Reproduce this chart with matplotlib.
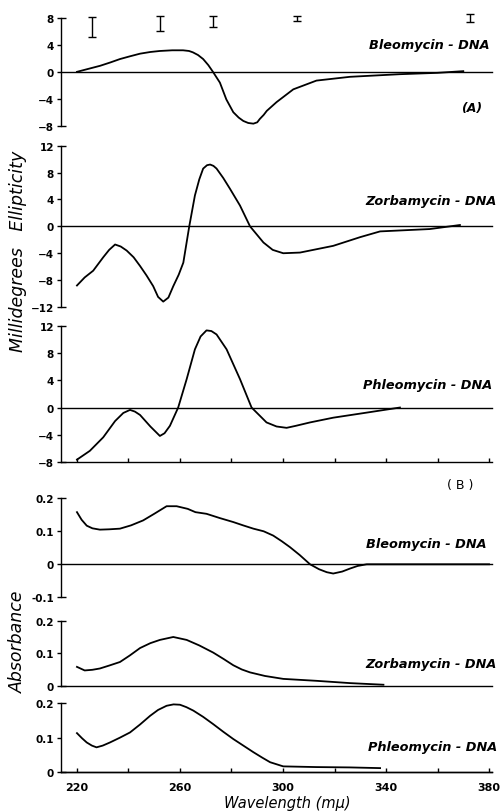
import matplotlib.pyplot as plt
import numpy as np

plt.rcParams['font.family'] = ['DejaVu Sans']

# (A) circular dichroism, millidegrees ellipticity
bleo_cd_wl = [220, 224, 229, 233, 236.7, 240.5, 244.5, 248.5, 252.2, 257, 261.2, 263.5, 265, 267, 269, 271,
              272.8, 275.5, 278, 280.7, 282.8, 284.6, 286.5, 288.5, 290, 291, 292.5, 293.7, 297.5, 304,
              313, 326, 345.4, 360, 370]
bleo_cd = [0, 0.4, 0.9, 1.4, 1.9, 2.3, 2.7, 2.95, 3.1, 3.2, 3.2, 3.1, 2.9, 2.5, 1.9, 1.0,
           0, -1.6, -4.1, -6.0, -6.8, -7.3, -7.6, -7.7, -7.5, -7.0, -6.4, -5.8, -4.5, -2.6,
           -1.3, -0.74, -0.35, -0.15, 0.1]

zorb_cd_wl = [220, 223, 226.3, 230.2, 232.5, 234.8, 237, 239.3, 242, 244.5, 247, 249.6, 251.5, 253.5,
              255.5, 257.4, 259.5, 261.3, 263.6, 265.8, 267.5, 269, 270.5, 271.7, 273, 274.2, 276.8,
              279.4, 283.3, 287.2, 292.4, 296, 300.1, 306.6, 319.5, 330, 337.7, 357, 368.7]
zorb_cd = [-8.8, -7.6, -6.6, -4.6, -3.5, -2.7, -3.0, -3.6, -4.6, -5.9, -7.3, -8.9, -10.5, -11.2,
           -10.6, -8.9, -7.2, -5.4, 0, 4.6, 7.0, 8.6, 9.1, 9.2, 9.0, 8.6, 7.2,
           5.6, 3.1, 0, -2.4, -3.5, -4.0, -3.9, -2.9, -1.6, -0.75, -0.4, 0.2]

phleo_cd_wl = [220, 225, 230.2, 234.8, 238, 240.6, 242.5, 244.5, 248.5, 252.2, 254, 256.1, 259.3,
               262.6, 265.8, 268, 270.3, 272.2, 274.2, 278.1, 283.3, 287.8, 293.6, 297.5, 301.4,
               305, 310.5, 319.5, 332.5, 345.4]
phleo_cd = [-7.7, -6.4, -4.4, -2.0, -0.8, -0.35, -0.6, -1.1, -2.8, -4.2, -3.8, -2.7, 0,
            4.2, 8.6, 10.5, 11.4, 11.3, 10.8, 8.6, 4.2, 0, -2.2, -2.8, -3.0,
            -2.7, -2.2, -1.5, -0.75, 0]

# noise bars at top of the bleomycin CD panel
bar_wl = [225.8, 252.2, 272.8, 305.4, 372.6]
bar_mid = [6.65, 7.2, 7.5, 7.9, 8.0]
bar_half = [1.45, 1.1, 0.8, 0.4, 0.6]

# (B) absorbance difference
bleo_ab_wl = [220, 221.8, 223.8, 226, 228.9, 232.5, 236.7, 241, 245.7, 250, 254.8, 258.7, 263,
              266, 270.3, 275.5, 280.7, 284.5, 288.5, 292.5, 296.2, 299.5, 302.7, 306.5, 310.5,
              314, 317, 319.5, 323, 326, 329, 332.5, 380]
bleo_ab = [0.158, 0.135, 0.117, 0.109, 0.105, 0.106, 0.108, 0.118, 0.133, 0.153, 0.176, 0.176, 0.168,
           0.158, 0.153, 0.14, 0.128, 0.118, 0.108, 0.1, 0.087, 0.07, 0.052, 0.028, 0.0,
           -0.015, -0.024, -0.028, -0.022, -0.013, -0.005, 0, 0]

zorb_ab_wl = [220, 223, 226, 228.9, 232.5, 236.7, 240.5, 244.5, 248.5, 252.2, 257.4, 262.6, 267.5,
              272.9, 277, 280.7, 284, 287.2, 293, 300.1, 313.1, 326, 339]
zorb_ab = [0.058, 0.047, 0.049, 0.053, 0.062, 0.073, 0.093, 0.116, 0.131, 0.141, 0.15, 0.141, 0.124,
           0.102, 0.082, 0.063, 0.05, 0.041, 0.03, 0.021, 0.015, 0.008, 0.003]

phleo_ab_wl = [220, 222, 223.8, 225.8, 227.6, 230, 232.8, 236.7, 240.6, 244.5, 248.4, 251.5, 254.8,
               257.5, 260, 262.5, 265.2, 269, 272.9, 276.8, 280.7, 284.6, 288.5, 292, 295, 300.1,
               313, 326, 337.7]
phleo_ab = [0.113, 0.098, 0.086, 0.077, 0.072, 0.077, 0.086, 0.1, 0.115, 0.138, 0.163, 0.18, 0.192,
            0.196, 0.195, 0.188, 0.178, 0.16, 0.139, 0.117, 0.096, 0.077, 0.058, 0.042, 0.029, 0.017,
            0.015, 0.014, 0.012]

fig = plt.figure(figsize=(5.02, 8.12), dpi=100)
left, width = 0.1215, 0.8578
xlim = (213.8, 381)

# (bottom, height, ylim, yticks, yticklabels, show bottom axis)
panels = [
    (0.844, 0.1326, (-8, 8), [-8, -4, 0, 4, 8], None, False),
    (0.6207, 0.1986, (-12, 12), [-12, -8, -4, 0, 4, 8, 12], None, False),
    (0.4302, 0.1667, (-8, 12), [-8, -4, 0, 4, 8, 12], None, True),
    (0.2632, 0.1219, (-0.1, 0.2), [-0.1, 0, 0.1, 0.2], ['-0.1', '0', '0.1', '0.2'], False),
    (0.1543, 0.0800, (0, 0.2), [0, 0.1, 0.2], ['0', '0.1', '0.2'], False),
    (0.0477, 0.0853, (0, 0.2), [0, 0.1, 0.2], ['0', '0.1', '0.2'], True),
]
curves = [(bleo_cd_wl, bleo_cd), (zorb_cd_wl, zorb_cd), (phleo_cd_wl, phleo_cd),
          (bleo_ab_wl, bleo_ab), (zorb_ab_wl, zorb_ab), (phleo_ab_wl, phleo_ab)]
names = ['Bleomycin - DNA', 'Zorbamycin - DNA', 'Phleomycin - DNA',
         'Bleomycin - DNA', 'Zorbamycin - DNA', 'Phleomycin - DNA']
name_pos = [(380.4, 4.1), (383, 3.8), (381.4, 3.4), (379, 0.062), (383, 0.068), (383, 0.075)]

axes = []
for i, (bot, h, yl, yt, ytl, show_x) in enumerate(panels):
    ax = fig.add_axes([left, bot, width, h])
    axes.append(ax)
    wl, val = curves[i]
    ax.plot(wl, val, color='black', lw=1.3, clip_on=False)
    ax.axhline(0, color='black', lw=1.0, clip_on=False)
    ax.set_xlim(xlim)
    ax.set_ylim(yl)
    ax.set_yticks(yt)
    if ytl is not None:
        ax.set_yticklabels(ytl)
    for s in ['top', 'right']:
        ax.spines[s].set_visible(False)
    ax.spines['left'].set_linewidth(1.0)
    ax.tick_params(axis='y', direction='out', length=3, width=1.0, pad=2, labelsize=7.5)
    for lab in ax.get_yticklabels():
        lab.set_fontweight('bold')
    # end caps on the y axis
    cap = (xlim[1] - xlim[0]) * 0.012
    ax.hlines([yl[0], yl[1]], xlim[0], xlim[0] + cap, color='black', lw=1.0, clip_on=False)
    if show_x:
        ax.spines['bottom'].set_linewidth(1.0)
        ax.set_xticks(np.arange(220, 381, 20))
        ax.tick_params(axis='x', direction='in', length=3, width=1.0)
        if i == 5:
            ax.set_xticks([220, 260, 300, 340, 380])
            ax.set_xticks([240, 280, 320, 360], minor=True)
            ax.tick_params(axis='x', which='both', direction='in', length=3, width=1.0,
                           pad=7, labelsize=8)
            for lab in ax.get_xticklabels():
                lab.set_fontweight('bold')
        else:
            ax.set_xticklabels([])
    else:
        ax.spines['bottom'].set_visible(False)
        ax.set_xticks([])
    nx, ny = name_pos[i]
    ax.text(nx, ny, names[i], ha='right', va='center', fontsize=9.3, fontweight='bold',
            fontstyle='italic', clip_on=False)

axes[0].errorbar(bar_wl, bar_mid, yerr=bar_half, fmt='none', ecolor='black', elinewidth=1.0,
                 capsize=3, capthick=1.0, clip_on=False)
axes[0].text(377.3, -5.3, '(A)', ha='right', va='center', fontsize=9, fontweight='bold',
             fontstyle='italic')
axes[3].text(368.7, 0.243, '( B )', ha='center', va='center', fontsize=9, clip_on=False)

fig.text(0.036, 0.691, 'Millidegrees   Ellipticity', rotation=90, ha='center', va='center',
         fontsize=12.5, fontstyle='italic')
fig.text(0.036, 0.210, 'Absorbance', rotation=90, ha='center', va='center',
         fontsize=12.5, fontstyle='italic')
fig.text(0.573, 0.011, 'Wavelength (m\u03bc)', ha='center', va='center',
         fontsize=10.5, fontstyle='italic')

fig.savefig('out.png', dpi=100)
